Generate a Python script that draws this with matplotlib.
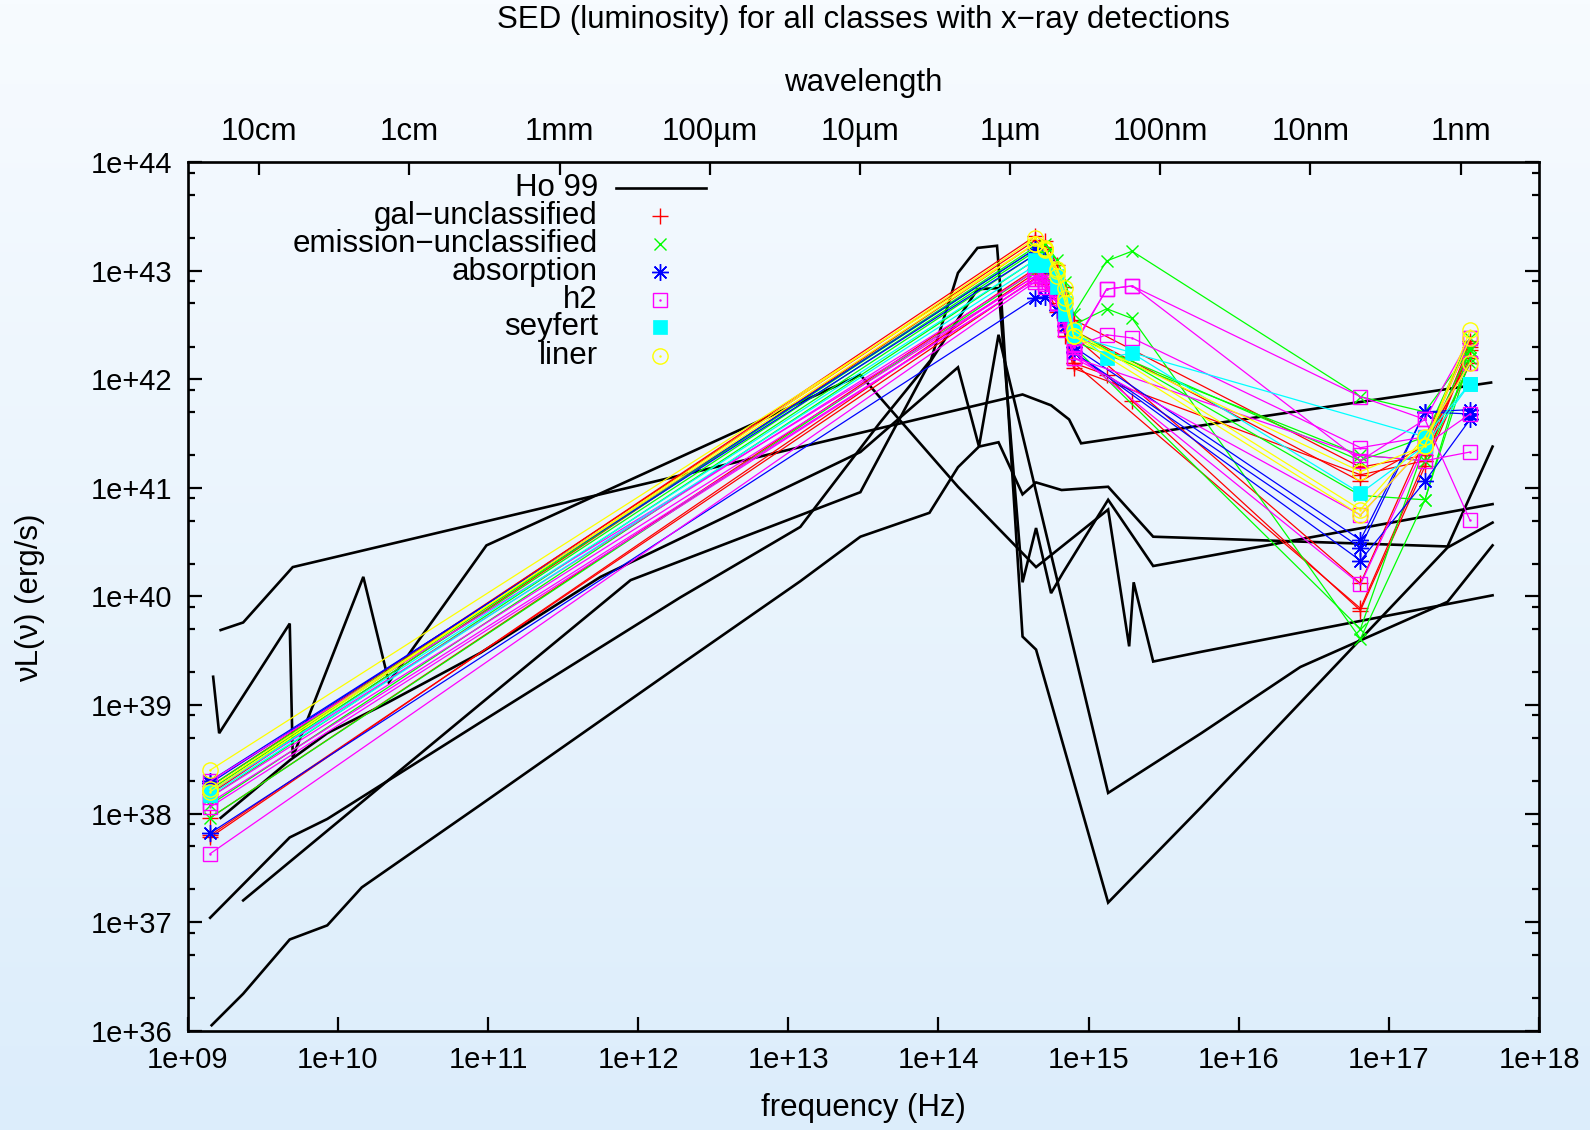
import numpy as np
import matplotlib
matplotlib.use('Agg')
import matplotlib.pyplot as plt
from matplotlib.colors import LinearSegmentedColormap
from matplotlib.ticker import FixedLocator, NullLocator

plt.rcParams['font.family'] = ['Liberation Sans', 'DejaVu Sans']
plt.rcParams['font.size'] = 21
big = 22.5  # title, axis names, key and wavelength labels

# band frequencies, log10(Hz)
radio_lognu = 9.15
opt_lognu = [14.645, 14.71, 14.79, 14.845, 14.90]
uv_lognu = [15.12, 15.29]
xray_lognu = [16.81, 17.24, 17.54]

classes = ['gal\u2212unclassified', 'emission\u2212unclassified', 'absorption',
           'h2', 'seyfert', 'liner']
class_colors = ['#ff0000', '#00ff00', '#0000ff', '#ff00ff', '#00ffff', '#ffff00']

nan = np.nan
# one entry per galaxy, log10(nu L_nu / erg s^-1)
series_class = [0, 0, 0, 0, 0, 0,
                1, 1, 1, 1, 1, 1,
                2, 2, 2,
                3, 3, 3, 3, 3, 3,
                4, 4,
                5, 5, 5]
radio_logL = [38.22, 38.25, 37.96, 37.78, 37.80, 38.18,
              38.22, 38.20, 37.96, 38.08, 38.25, 38.15,
              38.28, 37.82, 38.30,
              38.30, 38.06, 37.63, 38.15, 38.20, 38.10,
              38.17, 38.20,
              38.40, 38.23, 38.20]
opt_logL = [
    [43.32, 43.27, 43.05, 42.85, 42.55],
    [43.28, 43.22, 43.00, 42.75, 42.45],
    [43.02, 42.98, 42.75, 42.50, 42.15],
    [42.98, 42.92, 42.70, 42.45, 42.15],
    [42.93, 42.88, 42.62, 42.40, 42.10],
    [43.25, 43.20, 43.00, 42.70, 42.40],
    [43.22, 43.25, 43.10, 42.90, 42.60],
    [43.18, 43.15, 42.95, 42.70, 42.50],
    [43.00, 42.95, 42.80, 42.60, 42.30],
    [43.10, 43.05, 42.85, 42.65, 42.35],
    [43.20, 43.15, 42.95, 42.75, 42.45],
    [43.15, 43.10, 42.90, 42.65, 42.40],
    [43.20, 43.10, 42.85, 42.60, 42.30],
    [42.75, 42.76, 42.64, 42.49, 42.25],
    [43.15, 43.05, 42.80, 42.55, 42.25],
    [42.95, 42.92, 42.80, 42.60, 42.32],
    [42.92, 42.90, 42.75, 42.55, 42.30],
    [42.90, 42.85, 42.70, 42.50, 42.25],
    [42.95, 42.90, 42.70, 42.45, 42.20],
    [43.00, 42.95, 42.80, 42.55, 42.30],
    [42.92, 42.88, 42.70, 42.50, 42.20],
    [43.05, 43.05, 42.95, 42.70, 42.45],
    [43.10, 43.08, 42.85, 42.60, 42.40],
    [43.25, 43.21, 43.02, 42.84, 42.40],
    [43.25, 43.19, 43.00, 42.75, 42.45],
    [43.30, 43.20, 42.95, 42.70, 42.40],
]
uv_logL = [
    [nan, nan], [nan, nan], [nan, nan], [42.04, 41.80], [nan, nan], [nan, nan],
    [43.09, 43.18], [42.65, 42.56], [nan, nan], [nan, nan], [nan, nan], [nan, nan],
    [nan, nan], [nan, nan], [nan, nan],
    [42.83, 42.86], [42.41, 42.38], [nan, nan], [nan, nan], [42.83, 42.86], [nan, nan],
    [42.20, 42.24], [nan, nan],
    [nan, nan], [nan, nan], [nan, nan],
]
xray_logL = [
    [41.19, 41.30, 42.33],
    [41.06, 41.39, 42.20],
    [39.89, 41.25, 42.27],
    [39.87, 41.20, 42.15],
    [41.12, 41.25, 42.30],
    [40.12, 41.45, 42.35],
    [41.84, 41.70, 42.27],
    [39.61, 40.89, 42.20],
    [39.70, 41.39, 42.27],
    [41.30, 41.25, 42.15],
    [40.93, 40.89, 42.30],
    [41.25, 41.47, 42.38],
    [40.52, 41.70, 41.72],
    [40.33, 41.06, 41.63],
    [40.45, 41.70, 41.68],
    [41.84, 41.63, 42.38],
    [41.37, 41.47, 42.15],
    [40.11, 41.39, 42.38],
    [41.30, 41.25, 41.33],
    [41.25, 41.63, 40.70],
    [40.75, 41.39, 41.68],
    [40.95, 41.39, 41.96],
    [nan, 41.47, 41.96],
    [40.75, 41.39, 42.45],
    [40.80, 41.47, 42.15],
    [41.15, 41.39, 42.38],
]

# Ho 99 template SEDs: log10(nu), log10(nu L_nu)
ho_lognu = [
    [9.22, 9.37, 9.70, 14.56, 14.75, 14.87, 14.95, 17.68],
    [9.17, 9.21, 9.68, 9.70, 10.17, 10.34, 10.99, 13.48, 14.13, 14.65, 15.13,
     15.27, 15.30, 15.43, 15.75, 17.69],
    [9.15, 9.68, 9.93, 10.95, 12.28, 13.08, 13.61, 13.95, 14.13, 14.26, 14.39,
     14.42, 14.56, 14.65, 15.13, 15.75, 17.39, 17.69],
    [9.37, 10.95, 11.95, 13.48, 13.94, 14.26, 14.40, 14.56, 14.65, 14.75, 14.83,
     15.13, 15.43, 15.75, 17.69],
    [9.16, 9.37, 9.68, 9.93, 10.16, 10.95, 12.28, 13.08, 13.48, 13.94, 14.13,
     14.27, 14.40, 14.56, 14.65, 14.82, 15.13, 15.43, 17.39, 17.69],
    [9.22, 9.68, 9.93, 10.33, 10.95, 11.75, 13.48, 14.13, 14.27, 14.40, 15.13,
     15.75, 16.41, 17.39, 17.69],
]
ho_logL = [
    [39.69, 39.76, 40.27, 41.86, 41.76, 41.63, 41.41, 41.97],
    [39.26, 38.74, 39.75, 38.52, 40.18, 39.21, 40.47, 42.04, 41.01, 40.27, 40.80,
     39.54, 40.13, 39.40, 39.49, 40.01],
    [37.04, 37.78, 37.95, 38.84, 39.99, 40.64, 41.60, 42.18, 42.98, 43.21, 43.23,
     42.70, 39.63, 39.51, 37.18, 38.06, 40.45, 40.68],
    [37.20, 39.01, 40.15, 40.96, 42.15, 42.83, 42.84, 40.13, 40.63, 40.03, 40.22,
     40.89, 40.28, 40.36, 40.85],
    [36.05, 36.34, 36.84, 36.97, 37.32, 38.08, 39.37, 40.14, 40.55, 40.77, 41.19,
     41.38, 41.42, 40.94, 41.05, 40.98, 41.01, 40.55, 40.46, 41.38],
    [37.96, 38.49, 38.74, 39.02, 39.48, 40.18, 41.33, 42.11, 41.38, 42.41, 38.19,
     38.74, 39.35, 39.95, 40.47],
]

wavelength_m = [0.1, 0.01, 1e-3, 1e-4, 1e-5, 1e-6, 1e-7, 1e-8, 1e-9]
wavelength_labels = ['10cm', '1cm', '1mm', '100\u00b5m', '10\u00b5m', '1\u00b5m',
                     '100nm', '10nm', '1nm']

marker_styles = [
    dict(marker='+', ms=11, mew=1.0, mfc='none'),
    dict(marker='x', ms=9, mew=1.0, mfc='none'),
    dict(marker=(8, 2, 0), ms=12, mew=1.0, mfc='none'),
    dict(marker='s', ms=9.5, mew=1.0, mfc='none'),
    dict(marker='s', ms=10, mew=0.5),
    dict(marker='o', ms=11, mew=1.0, mfc='none'),
]
has_dot = [False, False, False, True, False, True]

fig = plt.figure(figsize=(15.9, 11.3), dpi=100)

# pale blue gradient behind everything
bg = fig.add_axes([0, 0, 1, 1], zorder=-10)
grad = np.linspace(0, 1, 256)[:, None]
bg_cmap = LinearSegmentedColormap.from_list('bg', ['#f7fbff', '#dcedfb'])
bg.imshow(grad, aspect='auto', cmap=bg_cmap, extent=[0, 1, 0, 1], origin='upper')
bg.axis('off')

ax = fig.add_axes([0.118, 0.0879, 0.850, 0.7686])
ax.set_facecolor('none')

for lnu, lL in zip(ho_lognu, ho_logL):
    ax.plot(10 ** np.array(lnu), 10 ** np.array(lL), color='black', lw=1.9,
            solid_joinstyle='miter')

for order in range(len(classes)):
    for i, c in enumerate(series_class):
        if c != order:
            continue
        lx = np.array([radio_lognu] + opt_lognu + uv_lognu + xray_lognu)
        ly = np.array([radio_logL[i]] + opt_logL[i] + uv_logL[i] + xray_logL[i])
        ok = ~np.isnan(ly)
        nu = 10 ** lx[ok]
        L = 10 ** ly[ok]
        col = class_colors[c]
        st = dict(marker_styles[c])
        if 'mfc' not in st:
            st['mfc'] = col
        ax.plot(nu, L, color=col, lw=0.9, mec=col, **st)
        if has_dot[c]:
            ax.plot(nu, L, ls='none', marker='.', ms=1.5, color=col)

ax.set_xscale('log')
ax.set_yscale('log')
ax.set_xlim(1e9, 1e18)
ax.set_ylim(1e36, 1e44)

xt = [10.0 ** k for k in range(9, 19)]
ax.xaxis.set_major_locator(FixedLocator(xt))
ax.set_xticklabels(['1e+%02d' % k for k in range(9, 19)])
ax.xaxis.set_minor_locator(NullLocator())
yt = [10.0 ** k for k in range(36, 45)]
ax.yaxis.set_major_locator(FixedLocator(yt))
ax.set_yticklabels(['1e+%02d' % k for k in range(36, 45)])
ymin = [m * 10.0 ** k for k in range(36, 44) for m in (2, 5, 8)]
ax.yaxis.set_minor_locator(FixedLocator(ymin))
ax.yaxis.set_minor_formatter(plt.NullFormatter())

ax.tick_params(which='major', direction='in', length=10, width=1.6,
               top=True, right=True, pad=11)
ax.tick_params(which='minor', direction='in', length=5, width=1.6,
               top=False, right=True)
for s in ax.spines.values():
    s.set_linewidth(1.9)

ax2 = ax.twiny()
ax2.set_xscale('log')
ax2.set_xlim(1e9, 1e18)
ax2.xaxis.set_major_locator(FixedLocator([3e8 / w for w in wavelength_m]))
ax2.set_xticklabels(wavelength_labels, fontsize=big)
ax2.xaxis.set_minor_locator(NullLocator())
ax2.tick_params(direction='in', length=9, width=1.6, pad=11)

fig.text(0.5431, 0.982, 'SED (luminosity) for all classes with x\u2212ray detections',
         ha='center', va='center', fontsize=big)
fig.text(0.5431, 0.9265, 'wavelength', ha='center', va='center', fontsize=big)
fig.text(0.5431, 0.0195, 'frequency (Hz)', ha='center', va='center', fontsize=big)
fig.text(0.019, 0.471, '\u03bdL(\u03bd) (erg/s)', ha='center', va='center',
         rotation=90, fontsize=big)

# key, gnuplot style: text right-aligned, sample on the right
leg_y = [0.9697, 0.9381, 0.9055, 0.874, 0.8413, 0.8098, 0.7772]
ax.text(0.3036, leg_y[0], 'Ho 99', transform=ax.transAxes, ha='right', va='center',
        fontsize=big)
ax.plot([0.3173, 0.3833], [leg_y[0], leg_y[0]], transform=ax.transAxes,
        color='black', lw=1.9)
for k, name in enumerate(classes):
    yk = leg_y[k + 1]
    ax.text(0.3036, yk, name, transform=ax.transAxes, ha='right', va='center',
            fontsize=big)
    col = class_colors[k]
    st = dict(marker_styles[k])
    if 'mfc' not in st:
        st['mfc'] = col
    ax.plot([0.3495], [yk], transform=ax.transAxes, ls='none', color=col, mec=col, **st)
    if has_dot[k]:
        ax.plot([0.3495], [yk], transform=ax.transAxes, ls='none', marker='.',
                ms=1.5, color=col)

fig.savefig('out.png', dpi=100)
